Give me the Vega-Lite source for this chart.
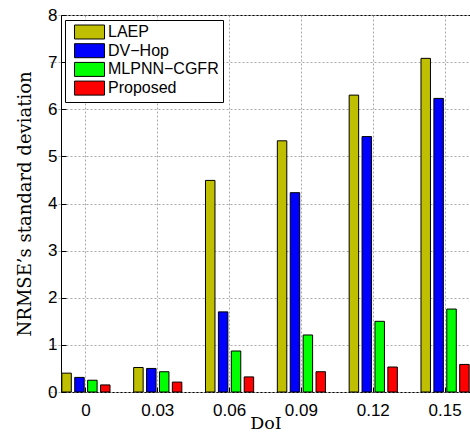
{
  "$schema": "https://vega.github.io/schema/vega-lite/v6.json",
  "width": 409,
  "height": 377,
  "autosize": {"type": "none"},
  "padding": {"left": 61, "top": 15, "right": 0, "bottom": 44},
  "background": "white",
  "config": {"view": {"stroke": "#000", "strokeWidth": 1}, "font": "Liberation Sans"},
  "data": {"values": [
    {"DoI": "0", "method": "LAEP", "value": 0.40},
    {"DoI": "0", "method": "DV−Hop", "value": 0.31},
    {"DoI": "0", "method": "MLPNN−CGFR", "value": 0.25},
    {"DoI": "0", "method": "Proposed", "value": 0.15},
    {"DoI": "0.03", "method": "LAEP", "value": 0.52},
    {"DoI": "0.03", "method": "DV−Hop", "value": 0.50},
    {"DoI": "0.03", "method": "MLPNN−CGFR", "value": 0.43},
    {"DoI": "0.03", "method": "Proposed", "value": 0.21},
    {"DoI": "0.06", "method": "LAEP", "value": 4.49},
    {"DoI": "0.06", "method": "DV−Hop", "value": 1.70},
    {"DoI": "0.06", "method": "MLPNN−CGFR", "value": 0.87},
    {"DoI": "0.06", "method": "Proposed", "value": 0.32},
    {"DoI": "0.09", "method": "LAEP", "value": 5.33},
    {"DoI": "0.09", "method": "DV−Hop", "value": 4.23},
    {"DoI": "0.09", "method": "MLPNN−CGFR", "value": 1.21},
    {"DoI": "0.09", "method": "Proposed", "value": 0.43},
    {"DoI": "0.12", "method": "LAEP", "value": 6.30},
    {"DoI": "0.12", "method": "DV−Hop", "value": 5.42},
    {"DoI": "0.12", "method": "MLPNN−CGFR", "value": 1.50},
    {"DoI": "0.12", "method": "Proposed", "value": 0.53},
    {"DoI": "0.15", "method": "LAEP", "value": 7.08},
    {"DoI": "0.15", "method": "DV−Hop", "value": 6.23},
    {"DoI": "0.15", "method": "MLPNN−CGFR", "value": 1.76},
    {"DoI": "0.15", "method": "Proposed", "value": 0.585}
  ]},
  "mark": {"type": "bar", "stroke": "#000", "strokeWidth": 1},
  "encoding": {
    "x": {
      "field": "DoI", "type": "nominal",
      "sort": ["0", "0.03", "0.06", "0.09", "0.12", "0.15"],
      "scale": {"range": [-11, 420], "paddingInner": 0, "paddingOuter": 0},
      "axis": {
        "title": "DoI", "titleFont": "DejaVu Serif", "titleFontSize": 17.5, "titleFontWeight": "normal",
        "titleColor": "#000", "titleBaseline": "alphabetic", "titleY": 36.5,
        "labelFont": "Liberation Sans", "labelFontSize": 17, "labelColor": "#000", "labelAngle": 0,
        "labelBaseline": "alphabetic", "tickSize": -5, "labelPadding": 28, "tickColor": "#000",
        "domain": false, "grid": true, "gridDash": [2, 2], "gridColor": "#aaa", "gridOpacity": 1, "bandPosition": 0.5
      }
    },
    "xOffset": {
      "field": "method", "type": "nominal",
      "sort": ["LAEP", "DV−Hop", "MLPNN−CGFR", "Proposed"],
      "scale": {"paddingInner": 0.265, "paddingOuter": 0.917}
    },
    "y": {
      "field": "value", "type": "quantitative",
      "scale": {"domain": [0, 8], "nice": false},
      "axis": {
        "title": "NRMSE’s standard deviation", "titleFont": "DejaVu Serif", "titleFontSize": 18,
        "titleFontWeight": "normal", "titleColor": "#000", "titleX": -31, "titleY": 188.4,
        "titleBaseline": "alphabetic", "titleAlign": "center",
        "values": [0, 1, 2, 3, 4, 5, 6, 7, 8],
        "labelFont": "Liberation Sans", "labelFontSize": 17, "labelColor": "#000",
        "tickSize": -5, "labelPadding": 9, "tickColor": "#000",
        "domain": false, "grid": true, "gridDash": [2, 2], "gridColor": "#aaa", "gridOpacity": 1
      }
    },
    "fill": {
      "field": "method", "type": "nominal",
      "sort": ["LAEP", "DV−Hop", "MLPNN−CGFR", "Proposed"],
      "scale": {"domain": ["LAEP", "DV−Hop", "MLPNN−CGFR", "Proposed"], "range": ["#BFBF00", "#0000FF", "#00FF00", "#FF0000"]},
      "legend": {
        "orient": "none", "legendX": 4, "legendY": 5, "title": null,
        "strokeColor": "#000", "fillColor": "#fff", "padding": 4,
        "symbolType": "M-0.33,-0.933H3.67V0.933H-0.33Z", "symbolSize": 225,
        "symbolStrokeColor": "#000", "symbolStrokeWidth": 1,
        "labelFont": "Liberation Sans", "labelFontSize": 16, "labelColor": "#000",
        "labelOffset": 23, "rowPadding": 0.7, "cornerRadius": 0
      }
    }
  }
}
